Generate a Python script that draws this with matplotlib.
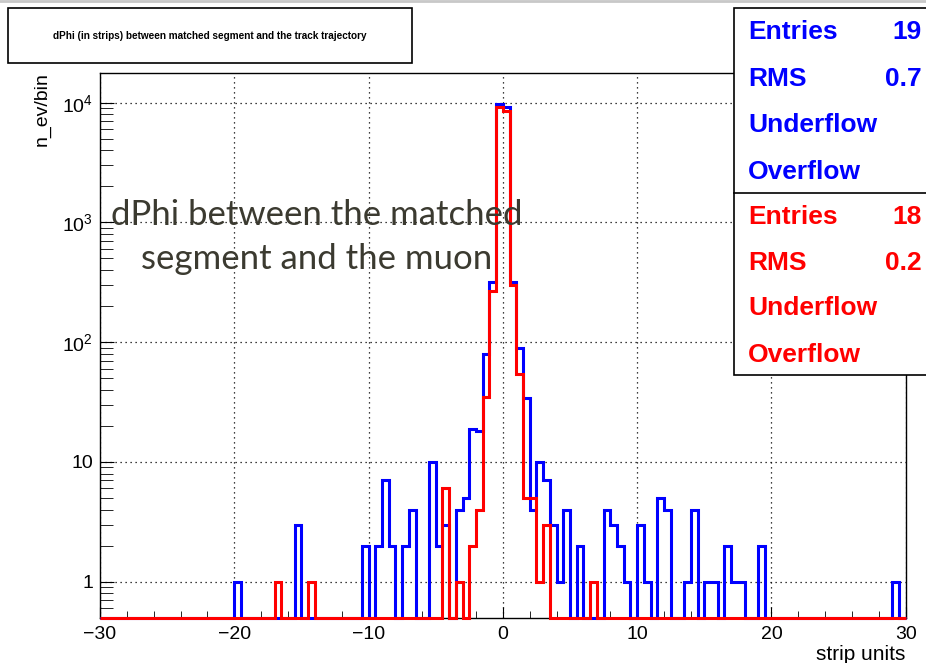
import numpy as np
import matplotlib
matplotlib.use("Agg")
import matplotlib.pyplot as plt
from matplotlib.ticker import FixedLocator, FixedFormatter, LogLocator, NullFormatter, MultipleLocator
from matplotlib.patches import Rectangle

plt.rcParams['font.family'] = ['Liberation Sans', 'DejaVu Sans']
plt.rcParams['mathtext.default'] = 'regular'

# histogram binning (strip units)
bin_width = 0.5
x_min, x_max = -30, 30

# non-empty bins: lower edge -> count
blue_lo = [-20, -15.5, -10.5, -9.5, -9, -8.5, -7.5, -7, -5.5, -5, -4.5, -3.5, -3, -2.5, -2,
           -1.5, -1, -0.5, 0, 0.5, 1, 1.5, 2, 2.5, 3, 3.5, 4, 4.5, 5.5, 7.5, 8, 8.5, 9,
           10, 10.5, 11.5, 12, 13.5, 14, 15, 15.5, 16.5, 17, 17.5, 19, 29]
blue_counts = [1, 3, 2, 2, 7, 2, 2, 4, 10, 2, 3, 4, 5, 19, 18,
               79, 318, 9700, 9200, 320, 90, 34, 4, 10, 7, 3, 1, 4, 2, 4, 3, 2, 1,
               3, 1, 5, 4, 1, 4, 1, 1, 2, 1, 1, 2, 1]

red_lo = [-17, -14.5, -4.5, -3.5, -2.5, -2, -1.5, -1, -0.5, 0, 0.5, 1, 1.5, 2, 2.5, 3, 6.5]
red_counts = [1, 1, 6, 1, 2, 4, 35, 267, 9200, 8600, 300, 54, 5, 5, 1, 3, 1]

title = "dPhi (in strips) between matched segment and the track trajectory"
note = "dPhi between the matched\nsegment and the muon"
y_min, y_max = 0.5, 17600

edges = np.arange(x_min, x_max + bin_width / 2, bin_width)


def fill_hist(lo, counts):
    h = np.zeros(len(edges) - 1)
    for l, c in zip(lo, counts):
        h[int(round((l - x_min) / bin_width))] = c
    # ROOT draws empty bins on the frame bottom
    return np.where(h > 0, h, y_min)


blue_h = fill_hist(blue_lo, blue_counts)
red_h = fill_hist(red_lo, red_counts)

W, H = 926, 663
fig = plt.figure(figsize=(W / 100, H / 100), dpi=100)
ax = fig.add_axes([100 / W, 1 - 617.7 / H, 805.7 / W, (617.7 - 73.3) / H])

ax.stairs(blue_h, edges, color='#0000ff', lw=2.2, baseline=None, clip_on=False, zorder=3)
ax.stairs(red_h, edges, color='#ff0000', lw=2.2, baseline=None, clip_on=False, zorder=4)

ax.set_yscale('log')
ax.set_xlim(x_min, x_max)
ax.set_ylim(y_min, y_max)

ax.xaxis.set_major_locator(MultipleLocator(10))
ax.xaxis.set_minor_locator(MultipleLocator(2))
ax.yaxis.set_major_locator(FixedLocator([1, 10, 100, 1000, 10000]))
ax.yaxis.set_major_formatter(FixedFormatter(['1', '10', '$10^{2}$', '$10^{3}$', '$10^{4}$']))
ax.yaxis.set_minor_locator(LogLocator(base=10, subs=np.arange(2, 10), numticks=20))
ax.yaxis.set_minor_formatter(NullFormatter())

ax.tick_params(axis='both', which='both', direction='in', top=False, right=False, color='black')
ax.tick_params(axis='x', which='major', length=8, labelsize=14, pad=6)
ax.tick_params(axis='x', which='minor', length=5)
ax.tick_params(axis='y', which='major', length=10, labelsize=14, pad=5)
ax.tick_params(axis='y', which='minor', length=9)

ax.grid(True, which='major', color='black', linestyle=(0, (1, 3)), lw=0.9)
for s in ax.spines.values():
    s.set_linewidth(1.0)

fig.text(905 / W, 1 - 655 / H, "strip units", fontsize=15, ha='right', va='center')
fig.text(42 / W, 1 - 72 / H, "n_ev/bin", fontsize=14, rotation=90, ha='center', va='top')

# title box
fig.add_artist(Rectangle((8 / W, 1 - 63.3 / H), 404 / W, 55 / H, transform=fig.transFigure,
                         fill=False, ec='black', lw=1.2))
fig.text(210 / W, 1 - 36 / H, title, fontsize=7.2, fontweight='bold', ha='center', va='center')

# stats box (cut off by the slide edge)
fig.add_artist(Rectangle((734 / W, 1 - 375 / H), 300 / W, 367 / H, transform=fig.transFigure,
                         fill=True, fc='white', ec='black', lw=1.2, zorder=5))
fig.add_artist(plt.Line2D([734 / W, 1], [1 - 192.7 / H] * 2, transform=fig.transFigure,
                          color='black', lw=1.2, zorder=6))
stat_rows = [("Entries", "19", 31.7), ("RMS", "0.7", 79), ("Underflow", "", 125), ("Overflow", "", 171.7)]
stat_rows_red = [("Entries", "18", 216.7), ("RMS", "0.2", 263), ("Underflow", "", 308), ("Overflow", "", 355)]
for rows, col in [(stat_rows, '#0000ff'), (stat_rows_red, '#ff0000')]:
    for name, val, y in rows:
        fig.text(748 / W, 1 - y / H, name, color=col, fontsize=19, fontweight='bold',
                 va='center', zorder=7)
        if val:
            fig.text(922 / W, 1 - y / H, val, color=col, fontsize=19, fontweight='bold',
                     ha='right', va='center', zorder=7)

# annotation from the slide
fig.text(317 / W, 1 - 237 / H, note, fontsize=25, family='Lato', color='#3b3a30',
         ha='center', va='center', multialignment='center', linespacing=1.45, zorder=8)

fig.add_artist(plt.Line2D([0, 1], [1 - 1 / H] * 2, transform=fig.transFigure, color='#c8c8c8', lw=2))

fig.savefig("out.png", dpi=100)
